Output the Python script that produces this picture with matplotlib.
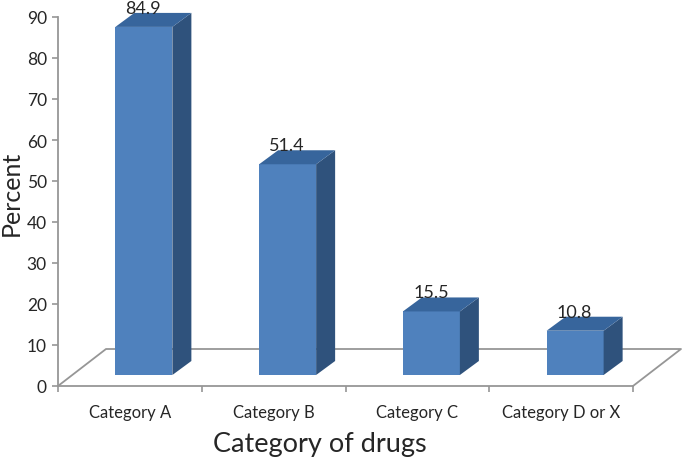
import matplotlib
matplotlib.use('Agg')
import matplotlib.pyplot as plt
from matplotlib.patches import Polygon

categories = ['Category A', 'Category B', 'Category C', 'Category D or X']
percent = [84.9, 51.4, 15.5, 10.8]
yticks = [0, 10, 20, 30, 40, 50, 60, 70, 80, 90]

plt.rcParams['font.family'] = ['Lato', 'DejaVu Sans']

W, H = 685, 460
fig = plt.figure(figsize=(W / 100, H / 100), dpi=100)
# axes box = front edge of the floor and the value axis
ax = fig.add_axes([58 / W, (H - 387) / H, 575 / W, 369 / H])
ax.set_xlim(0, 4)
ax.set_ylim(0, 90)

grey = '#969696'
text_col = '#262626'

# fake 3d depth in data units
xpx = 4 / 575
ypx = 90 / 369
floor_dx, floor_dy = 48 * xpx, 37 * ypx
lift = 11 * ypx
bar_w = 57 * xpx
dep_x, dep_y = 19 * xpx, 14 * ypx
shift = 14 * xpx

front = '#4f81bd'
top = '#37659c'
side = '#2f527c'

# floor outline
ax.plot([0, floor_dx, 4 + floor_dx, 4], [0, floor_dy, floor_dy, 0],
        color=grey, lw=1.3, clip_on=False, zorder=1)

for i, v in enumerate(percent):
    x0 = i + 0.5 - bar_w / 2 + shift
    x1 = x0 + bar_w
    y0 = lift
    y1 = lift + v
    ax.add_patch(Polygon([(x0, y0), (x1, y0), (x1, y1), (x0, y1)],
                         fc=front, ec='none', clip_on=False, zorder=3))
    ax.add_patch(Polygon([(x1, y0), (x1 + dep_x, y0 + dep_y), (x1 + dep_x, y1 + dep_y), (x1, y1)],
                         fc=side, ec='none', clip_on=False, zorder=3))
    ax.add_patch(Polygon([(x0, y1), (x1, y1), (x1 + dep_x, y1 + dep_y), (x0 + dep_x, y1 + dep_y)],
                         fc=top, ec='none', clip_on=False, zorder=3))
    ax.text(x0 + 28 * xpx, y1 + dep_y + 5 * ypx, '%.1f' % v, ha='center', va='center',
            fontsize=13, color=text_col, clip_on=False, zorder=4)

for s in ['top', 'right']:
    ax.spines[s].set_visible(False)
for s in ['left', 'bottom']:
    ax.spines[s].set_color(grey)
    ax.spines[s].set_linewidth(1.3)

ax.set_yticks(yticks)
ax.set_xticks(range(5))
ax.set_xticklabels([])
ax.set_xticks([i + 0.5 for i in range(4)], minor=True)
ax.set_xticklabels(categories, minor=True)
ax.tick_params(axis='x', which='minor', length=0, pad=13, labelsize=12, labelcolor=text_col)
ax.tick_params(axis='x', which='major', length=4, width=1.2, color=grey)
ax.tick_params(axis='y', length=4, width=1.2, color=grey, labelsize=12.5, labelcolor=text_col, pad=4)

fig.text(320 / W, 1 - 445 / H, 'Category of drugs', ha='center', va='center',
         fontsize=19.5, color=text_col)
fig.text(11 / W, 1 - 193 / H, 'Percent', rotation=90, ha='center', va='center',
         fontsize=18, color=text_col)

fig.savefig('out.png', dpi=100)
